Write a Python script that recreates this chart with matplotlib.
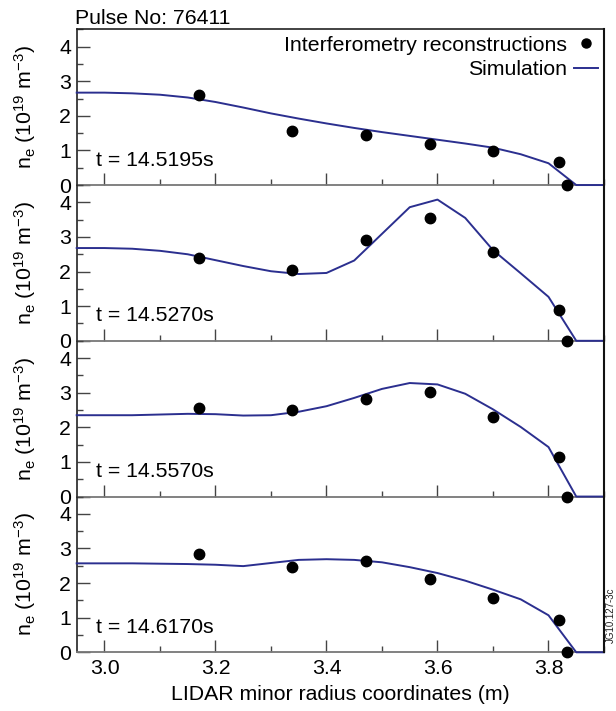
import numpy as np
import matplotlib
matplotlib.use("Agg")
import matplotlib.pyplot as plt
from matplotlib.lines import Line2D
from matplotlib.ticker import MultipleLocator

plt.rcParams['font.family'] = ['Liberation Sans', 'DejaVu Sans']
plt.rcParams['mathtext.fontset'] = 'custom'
plt.rcParams['mathtext.rm'] = 'Liberation Sans'
plt.rcParams['mathtext.it'] = 'Liberation Sans'

# ---------------- data ----------------
times = ["14.5195", "14.5270", "14.5570", "14.6170"]

sim_r = [2.95, 3.00, 3.05, 3.10, 3.15, 3.20, 3.25, 3.30, 3.35, 3.40,
         3.45, 3.50, 3.55, 3.60, 3.65, 3.70, 3.75, 3.80, 3.85, 3.90]
sim_1 = [2.67, 2.67, 2.65, 2.61, 2.53, 2.40, 2.24, 2.07, 1.92, 1.78,
         1.65, 1.53, 1.42, 1.31, 1.20, 1.08, 0.89, 0.63, 0.00, 0.00]
sim_2 = [2.68, 2.68, 2.66, 2.60, 2.50, 2.33, 2.16, 2.01, 1.93, 1.96,
         2.32, 3.09, 3.86, 4.08, 3.55, 2.62, 1.95, 1.27, 0.00, 0.00]
sim_3 = [2.35, 2.35, 2.35, 2.37, 2.39, 2.38, 2.34, 2.35, 2.45, 2.61,
         2.85, 3.11, 3.28, 3.24, 2.97, 2.52, 2.01, 1.43, 0.00, 0.00]
sim_4 = [2.57, 2.57, 2.57, 2.56, 2.55, 2.53, 2.49, 2.58, 2.67, 2.69,
         2.67, 2.60, 2.46, 2.29, 2.07, 1.81, 1.53, 1.07, 0.00, 0.00]

int_r = [3.17, 3.338, 3.471, 3.586, 3.70, 3.819, 3.833]
int_1 = [2.60, 1.56, 1.44, 1.18, 0.99, 0.66, 0.00]
int_2 = [2.39, 2.05, 2.90, 3.56, 2.56, 0.90, 0.00]
int_3 = [2.55, 2.51, 2.81, 3.02, 2.30, 1.15, 0.00]
int_4 = [2.85, 2.47, 2.64, 2.12, 1.56, 0.94, 0.00]

sims = [sim_1, sim_2, sim_3, sim_4]
ints = [int_1, int_2, int_3, int_4]

# ---------------- figure ----------------
W, H = 616, 711
fig = plt.figure(figsize=(W / 100, H / 100), dpi=100)

line_color = '#2b2f8f'
fs = 15.3
left = 76.7 / W
right = 604.0 / W
width = right - left
bottom0 = (H - 652.3) / H
top = (H - 29.3) / H
ph = (top - bottom0) / 4

axes = []
for i in range(4):
    ax = fig.add_axes([left, bottom0 + (3 - i) * ph, width, ph])
    axes.append(ax)
    ax.plot(sim_r, sims[i], color=line_color, lw=1.4, zorder=3, clip_on=False)
    ax.plot(int_r, ints[i], 'o', color='black', ms=7.5, zorder=4, clip_on=False)
    ax.set_xlim(2.95, 3.9)
    ax.set_ylim(0, 4.5)
    ax.xaxis.set_major_locator(MultipleLocator(0.2))
    ax.xaxis.set_minor_locator(MultipleLocator(0.1))
    ax.yaxis.set_major_locator(MultipleLocator(1))
    ax.yaxis.set_minor_locator(MultipleLocator(0.5))
    ax.tick_params(axis='both', which='both', direction='in', top=False, right=False,
                   labelsize=fs, color='#444444')
    ax.tick_params(axis='both', which='major', length=9, width=1.0)
    ax.tick_params(axis='both', which='minor', length=4.5, width=1.0)
    ax.tick_params(axis='y', pad=4)
    ax.tick_params(axis='x', pad=5)
    ax.spines['bottom'].set_color('#777777')
    ax.spines['bottom'].set_linewidth(1.3)
    ax.spines['left'].set_color('#222222')
    ax.spines['left'].set_linewidth(1.2)
    ax.spines['right'].set_visible(False)
    if i == 0:
        ax.spines['top'].set_color('#222222')
        ax.spines['top'].set_linewidth(1.2)
    else:
        ax.spines['top'].set_visible(False)
    if i < 3:
        ax.tick_params(axis='x', labelbottom=False)
    ax.set_yticks([0, 1, 2, 3, 4])
    ax.set_yticklabels(['0', '1', '2', '3', '4'])
    ax.text(-0.098, 0.5, r'n$_\mathregular{e}$ (10$^\mathregular{19}$ m$^{\mathregular{-3}}$)',
            transform=ax.transAxes, rotation=90, ha='center', va='center', fontsize=fs)
    ax.text(0.036, 0.72 / 4.5, 't = ' + times[i] + 's', transform=ax.transAxes,
            ha='left', va='center', fontsize=fs)
    ax.set_facecolor('none')

# right frame edge, drawn once across all four panels in figure coordinates
fig.add_artist(Line2D([right, right], [bottom0, top], transform=fig.transFigure,
                      color='#111111', lw=1.5, zorder=10))

axes[3].set_xlabel('LIDAR minor radius coordinates (m)', fontsize=fs, labelpad=5)

axes[0].text(-0.004, 1.008, 'Pulse No: 76411', transform=axes[0].transAxes,
             ha='left', va='bottom', fontsize=fs)

handles = [Line2D([], [], ls='none', marker='o', color='black', ms=6.5),
           Line2D([], [], color=line_color, lw=1.4)]
axes[0].legend(handles, ['Interferometry reconstructions', 'Simulation'],
               loc='upper right', markerfirst=False, frameon=False, fontsize=fs,
               handlelength=1.1, handletextpad=0.35, borderpad=0.0,
               borderaxespad=0.3, labelspacing=0.25)

fig.text(611 / W, 1 - 615 / H, 'JG10.127-3c', rotation=90, ha='center', va='center',
         fontsize=7, color='#222222')

fig.savefig('out.png', dpi=100)
